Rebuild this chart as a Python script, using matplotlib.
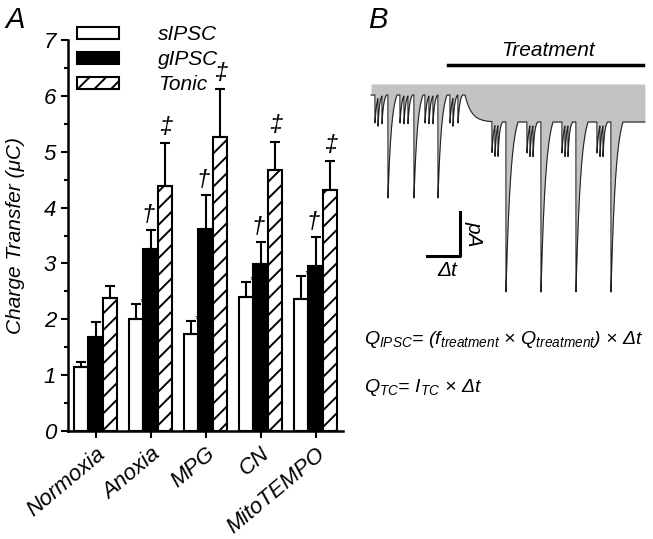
import numpy as np
import matplotlib
matplotlib.use("Agg")
import matplotlib.pyplot as plt

plt.rcParams['font.family'] = ['Liberation Sans', 'DejaVu Sans']
plt.rcParams['font.style'] = 'italic'
plt.rcParams['mathtext.fontset'] = 'custom'
plt.rcParams['mathtext.rm'] = 'Liberation Sans:italic'
plt.rcParams['mathtext.it'] = 'Liberation Sans:italic'
plt.rcParams['hatch.linewidth'] = 1.4

# panel A data (charge transfer, uC)
groups = ['Normoxia', 'Anoxia', 'MPG', 'CN', 'MitoTEMPO']
sipsc = [1.15, 2.01, 1.74, 2.40, 2.37]
sipsc_err = [0.09, 0.26, 0.23, 0.26, 0.40]
gipsc = [1.68, 3.26, 3.61, 2.99, 2.95]
gipsc_err = [0.27, 0.34, 0.62, 0.39, 0.52]
tonic = [2.38, 4.38, 5.26, 4.68, 4.32]
tonic_err = [0.22, 0.78, 0.86, 0.50, 0.51]
sig_s = ['', '*', '*', '*', '*']
sig_g = ['', '\u2020', '\u2020', '\u2020', '\u2020']
sig_t = ['', '\u2021', '\u2021', '\u2021', '\u2021']

# panel B schematic trace: event onset, amplitude
pre_events_t = [375, 378, 382, 388, 400, 404, 408, 414, 425, 429, 433, 438, 450, 453, 458]
pre_events_a = [28, 28, 28, 103, 28, 28, 28, 103, 28, 28, 28, 103, 28, 28, 28]
post_events_t = [492, 495, 498, 506, 527, 530, 533, 541, 562, 565, 568, 576, 597, 600, 603, 611]
post_events_a = [31, 31, 31, 170, 31, 31, 31, 170, 31, 31, 31, 170, 31, 31, 31, 170]

fig = plt.figure(figsize=(6.53, 5.39), dpi=100)
W, H = 653, 539

ax = fig.add_axes([68 / W, 1 - 431 / H, 275 / W, 391 / H])
x = np.arange(len(groups))
bw = 0.255
b1 = ax.bar(x - bw, sipsc, bw, color='white', edgecolor='k', linewidth=1.5, label='sIPSC')
b2 = ax.bar(x, gipsc, bw, color='black', edgecolor='k', linewidth=1.5, label='gIPSC')
b3 = ax.bar(x + bw, tonic, bw, color='white', edgecolor='k', linewidth=1.5, hatch='//', label='Tonic')

for xs, v, e, sg, fs, dx, dy in [(x - bw, sipsc, sipsc_err, sig_s, 8, 4, -2),
                                 (x, gipsc, gipsc_err, sig_g, 17, -2, 2),
                                 (x + bw, tonic, tonic_err, sig_t, 17, 1, 3)]:
    ax.errorbar(xs, v, yerr=[np.zeros(len(v)), e], fmt='none', ecolor='k',
                elinewidth=1.5, capsize=3.5, capthick=1.5)
    for xi, vi, ei, s in zip(xs, v, e, sg):
        if s:
            ax.annotate(s, (xi, vi + ei), xytext=(dx, dy), textcoords='offset points',
                        ha='center', va='bottom', fontsize=fs)

ax.set_xlim(-0.5, 4.5)
ax.set_ylim(0, 7)
ax.set_yticks(range(8))
ax.set_yticks(np.arange(0.5, 7, 1), minor=True)
ax.set_xticks(x)
ax.set_xticklabels(groups, rotation=40, ha='right', rotation_mode='anchor')
ax.tick_params(labelsize=16, width=1.5, length=5)
ax.tick_params(which='minor', width=1.5, length=3)
ax.tick_params(axis='x', pad=4)
for sp in ['top', 'right']:
    ax.spines[sp].set_visible(False)
for sp in ['left', 'bottom']:
    ax.spines[sp].set_linewidth(1.8)
ax.set_ylabel('Charge Transfer (\u03bcC)', fontsize=15)
ax.yaxis.set_label_coords(-0.155, 0.5)

ax.legend(handles=[b1, b2, b3], loc='upper left', bbox_to_anchor=(77 / W, 1 - 25 / H),
          bbox_transform=fig.transFigure, frameon=False, fontsize=15,
          handlelength=2.0, handleheight=0.5, handletextpad=1.9, labelspacing=0.3,
          borderpad=0, borderaxespad=0)

fig.text(15 / W, 1 - 20 / H, 'A', fontsize=21, ha='center', va='center')
fig.text(378 / W, 1 - 20 / H, 'B', fontsize=21, ha='center', va='center')

# panel B
axb = fig.add_axes([360 / W, 0, 293 / W, 1])
axb.set_xlim(360, 653)
axb.set_ylim(539, 0)
axb.axis('off')

t = np.arange(371, 645, 0.1)
base = np.where(t < 465, 95.0, 95 + 27 * (1 - np.exp(-(t - 465) / 6.5)))
trace = base.copy()


def add_events(tr, times, amps):
    for t0, a in zip(times, amps):
        w = 4.5 if a < 50 else (9.0 if a < 120 else 12.0)
        d = t - t0
        m = (d >= 0) & (d < w)
        tau = w / 2.5
        shape = (np.exp(-d[m] / tau) - np.exp(-w / tau)) / (1 - np.exp(-w / tau))
        tr[m] += a * shape


add_events(trace, pre_events_t, pre_events_a)
add_events(trace, post_events_t, post_events_a)

axb.fill_between(t, 84, trace, color='#c3c3c3', lw=0)
axb.plot(t, trace, color='#222222', lw=0.8)

axb.plot([448, 643], [65, 65], color='k', lw=2.5)
axb.text(548, 50, 'Treatment', fontsize=15, ha='center', va='center')

axb.plot([427, 460, 460], [256, 256, 212], color='k', lw=2.2)
axb.text(474, 234, 'pA', fontsize=15, rotation=-90, ha='center', va='center')
axb.text(447, 271, '\u0394t', fontsize=15, ha='center', va='center')

axb.text(364, 340, '$Q_{IPSC}$= ($f_{treatment}$ \u00d7 $Q_{treatment}$) \u00d7 \u0394t',
         fontsize=14, ha='left', va='center')
axb.text(364, 387, '$Q_{TC}$= $I_{TC}$ \u00d7 \u0394t', fontsize=14, ha='left', va='center')

fig.savefig('out.png', dpi=100)
